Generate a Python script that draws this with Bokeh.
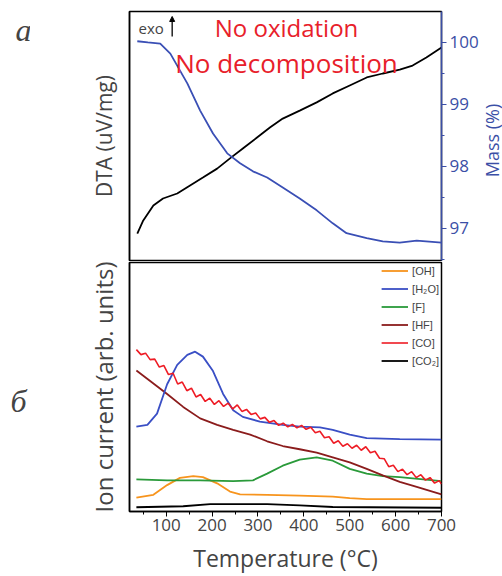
import math
from bokeh.plotting import figure
from bokeh.layouts import column, row
from bokeh.models import (Range1d, LinearAxis, FixedTicker, Label, Arrow,
                          NormalHead, Legend, LegendItem)
from bokeh.embed import file_html
from bokeh.resources import INLINE

# ---------------- data ----------------
# Panel a: DTA (arbitrary units) and mass (%)
dta_temp = [37, 50, 72, 93, 124, 152, 180, 211, 239, 267, 298, 326, 354, 391,
            428, 463, 500, 537, 572, 609, 637, 667, 700]
dta_val = [1.08, 1.61, 2.21, 2.49, 2.69, 3.01, 3.33, 3.69, 4.10, 4.50, 4.94,
           5.34, 5.70, 6.02, 6.35, 6.71, 7.03, 7.35, 7.51, 7.67, 7.83, 8.15, 8.55]

mass_temp = [37, 60, 87, 109, 146, 174, 202, 233, 261, 289, 320, 354, 391,
             428, 463, 493, 537, 572, 609, 646, 700]
mass_val = [100.02, 100.0, 99.98, 99.82, 99.34, 98.90, 98.53, 98.21, 98.05,
            97.92, 97.82, 97.66, 97.48, 97.29, 97.08, 96.92, 96.84, 96.79,
            96.77, 96.80, 96.77]

# Panel b: ion currents (arb. units)
oh_temp = [35, 72, 102, 130, 159, 180, 211, 239, 261, 320, 391, 463, 500, 537, 700]
oh_val = [0.56, 0.67, 1.06, 1.35, 1.42, 1.38, 1.13, 0.80, 0.69, 0.67, 0.64,
          0.60, 0.54, 0.50, 0.50]

h2o_temp = [35, 59, 80, 102, 124, 146, 163, 180, 202, 224, 246, 267, 304,
            354, 391, 435, 463, 500, 537, 609, 700]
h2o_val = [3.41, 3.48, 3.93, 5.11, 5.89, 6.29, 6.42, 6.22, 5.64, 4.72, 4.07,
           3.80, 3.61, 3.48, 3.41, 3.38, 3.28, 3.09, 2.95, 2.91, 2.89]

f_temp = [35, 102, 174, 246, 289, 320, 354, 391, 428, 463, 500, 537, 572, 609, 700]
f_val = [1.29, 1.25, 1.25, 1.22, 1.25, 1.52, 1.84, 2.08, 2.17, 2.04, 1.71,
         1.52, 1.42, 1.38, 1.22]

hf_temp = [35, 65, 102, 137, 174, 211, 246, 283, 320, 354, 391, 428, 463,
           500, 537, 572, 609, 646, 700]
hf_val = [5.66, 5.24, 4.72, 4.20, 3.74, 3.48, 3.28, 3.09, 2.82, 2.63, 2.50,
          2.36, 2.17, 1.97, 1.71, 1.45, 1.19, 0.99, 0.69]

co_temp = [35, 45, 55, 65, 75, 85, 95, 105, 115, 125, 135, 145, 155, 165, 175,
           185, 195, 205, 215, 225, 235, 245, 255, 265, 275, 285, 295, 305,
           315, 325, 335, 345, 355, 365, 375, 385, 395, 405, 415, 425, 435,
           445, 455, 465, 475, 485, 495, 505, 515, 525, 535, 545, 555, 565,
           575, 585, 595, 605, 615, 625, 635, 645, 655, 665, 675, 685, 695, 700]
co_val = [6.50, 6.30, 6.36, 6.10, 6.12, 5.80, 5.86, 5.50, 5.55, 5.12, 5.20,
          4.85, 4.95, 4.60, 4.70, 4.42, 4.55, 4.30, 4.45, 4.22, 4.35, 4.12,
          4.28, 4.02, 4.10, 3.90, 3.96, 3.72, 3.78, 3.58, 3.65, 3.46, 3.55,
          3.40, 3.50, 3.36, 3.46, 3.30, 3.38, 3.16, 3.22, 2.96, 3.00, 2.74,
          2.84, 2.62, 2.72, 2.54, 2.66, 2.46, 2.60, 2.36, 2.42, 2.14, 2.12,
          1.80, 1.86, 1.60, 1.70, 1.48, 1.60, 1.36, 1.48, 1.26, 1.36, 1.14,
          1.24, 1.10]

co2_temp = [35, 137, 196, 320, 391, 463, 700]
co2_val = [0.17, 0.21, 0.30, 0.30, 0.25, 0.18, 0.15]

mass_ticks = [97, 98, 99, 100]
mass_minor = [96.5, 97.5, 98.5, 99.5]
temp_ticks = [100, 200, 300, 400, 500, 600, 700]
temp_minor = [50, 150, 250, 350, 450, 550, 650]

series_labels = ["[OH]", "[H\u2082O]", "[F]", "[HF]", "[CO]", "[CO\u2082]"]
panel_letters = ["a", "\u0431"]
mass_axis_title = "Mass (%)"

FONT = "Open Sans"
BLUE_AX = "#3b4fa6"

# ---------------- left strip with panel letters ----------------
pl = figure(width=30, height=576, x_range=Range1d(0, 30),
            y_range=Range1d(0, 576), output_backend="svg",
            toolbar_location=None, x_axis_location=None,
            y_axis_location=None, min_border=0)
pl.grid.visible = False
pl.outline_line_color = None
pl.add_layout(Label(x=15, y=547, x_units="screen", y_units="screen",
                    text=panel_letters[0], text_font="Liberation Serif",
                    text_font_style="italic", text_font_size="32px",
                    text_baseline="middle"))
pl.add_layout(Label(x=10, y=176, x_units="screen", y_units="screen",
                    text=panel_letters[1], text_font="Liberation Serif",
                    text_font_style="italic", text_font_size="32px",
                    text_baseline="middle"))

# ---------------- right strip with the mass-axis title ----------------
pr = figure(width=21, height=576, x_range=Range1d(0, 21),
            y_range=Range1d(0, 576), output_backend="svg",
            toolbar_location=None, x_axis_location=None,
            y_axis_location=None, min_border=0)
pr.grid.visible = False
pr.outline_line_color = None
pr.add_layout(Label(x=10, y=436, x_units="screen", y_units="screen",
                    text=mass_axis_title, angle=math.pi / 2,
                    text_font=FONT, text_font_size="18px",
                    text_color=BLUE_AX, text_align="center",
                    text_baseline="middle"))

# ---------------- panel a ----------------
p1 = figure(width=451, height=261, x_range=Range1d(20, 700),
            y_range=Range1d(0, 10), output_backend="svg",
            toolbar_location=None, x_axis_location=None,
            min_border_left=99, min_border_right=38, min_border_top=11,
            min_border_bottom=1)
p1.grid.visible = False
p1.outline_line_color = "black"
p1.outline_line_width = 1.5

ya = p1.yaxis[0]
ya.ticker = FixedTicker(ticks=[])
ya.axis_label = "DTA (uV/mg)"
ya.axis_label_text_font = FONT
ya.axis_label_text_font_size = "21px"
ya.axis_label_text_font_style = "normal"
ya.axis_label_standoff = 12
ya.axis_line_color = "black"
ya.axis_line_width = 1.5

p1.extra_y_ranges = {"mass": Range1d(96.48, 100.5)}
ax_r = LinearAxis(y_range_name="mass",
                  ticker=FixedTicker(ticks=mass_ticks, minor_ticks=mass_minor))
ax_r.axis_line_color = BLUE_AX
ax_r.axis_line_width = 1.5
ax_r.major_tick_line_color = BLUE_AX
ax_r.minor_tick_line_color = BLUE_AX
ax_r.major_tick_in = 0
ax_r.major_tick_out = 5
ax_r.minor_tick_in = 0
ax_r.minor_tick_out = 3
ax_r.major_label_text_color = BLUE_AX
ax_r.major_label_text_font = FONT
ax_r.major_label_text_font_size = "17px"
ax_r.major_label_standoff = 3
p1.add_layout(ax_r, "right")

p1.line(dta_temp, dta_val, color="black", line_width=1.8)
p1.line(mass_temp, mass_val, y_range_name="mass", color="#3a4fb5",
        line_width=1.8)

p1.add_layout(Label(x=9, y=233, x_units="screen", y_units="screen",
                    text="exo", text_font=FONT, text_font_size="15px",
                    text_baseline="middle"))
p1.add_layout(Arrow(x_start=113, y_start=9.0, x_end=113, y_end=9.8,
                    line_color="black", line_width=1.3,
                    end=NormalHead(size=5, fill_color="black",
                                   line_color="black")))
p1.add_layout(Label(x=157, y=233, x_units="screen", y_units="screen",
                    text="No oxidation", text_font=FONT,
                    text_font_size="24px", text_color="#e8202a",
                    text_align="center", text_baseline="middle"))
p1.add_layout(Label(x=157, y=198, x_units="screen", y_units="screen",
                    text="No decomposition", text_font=FONT,
                    text_font_size="26px", text_color="#e8202a",
                    text_align="center", text_baseline="middle"))

# ---------------- panel b ----------------
p2 = figure(width=451, height=315, x_range=Range1d(20, 700),
            y_range=Range1d(0, 10), output_backend="svg",
            toolbar_location=None,
            min_border_left=98, min_border_right=39, min_border_top=1,
            min_border_bottom=59)
p2.grid.visible = False
p2.outline_line_color = "black"
p2.outline_line_width = 1.5

xa = p2.xaxis[0]
xa.ticker = FixedTicker(ticks=temp_ticks, minor_ticks=temp_minor)
xa.axis_label = "Temperature (\u00b0C)"
xa.axis_label_text_font = FONT
xa.axis_label_text_font_size = "23px"
xa.axis_label_text_font_style = "normal"
xa.axis_label_standoff = 8
xa.major_label_text_font = FONT
xa.major_label_text_font_size = "17px"
xa.major_label_standoff = 2
xa.major_tick_in = 0
xa.major_tick_out = 5
xa.minor_tick_in = 0
xa.minor_tick_out = 3
xa.axis_line_width = 1.5

yb = p2.yaxis[0]
yb.ticker = FixedTicker(ticks=[])
yb.axis_label = "Ion current (arb. units)"
yb.axis_label_text_font = FONT
yb.axis_label_text_font_size = "24px"
yb.axis_label_text_font_style = "normal"
yb.axis_label_standoff = 10
yb.axis_line_width = 1.5

r_oh = p2.line(oh_temp, oh_val, color="#f7941d", line_width=1.8)
r_f = p2.line(f_temp, f_val, color="#2a9a3a", line_width=1.8)
r_co2 = p2.line(co2_temp, co2_val, color="black", line_width=1.8)
r_hf = p2.line(hf_temp, hf_val, color="#8b1c1c", line_width=1.8)
r_h2o = p2.line(h2o_temp, h2o_val, color="#3a4fc5", line_width=1.8)
r_co = p2.line(co_temp, co_val, color="#ee1c25", line_width=1.6)

legend = Legend(items=[LegendItem(label=series_labels[0], renderers=[r_oh]),
                       LegendItem(label=series_labels[1], renderers=[r_h2o]),
                       LegendItem(label=series_labels[2], renderers=[r_f]),
                       LegendItem(label=series_labels[3], renderers=[r_hf]),
                       LegendItem(label=series_labels[4], renderers=[r_co]),
                       LegendItem(label=series_labels[5], renderers=[r_co2])],
                location="top_right")
legend.border_line_color = None
legend.background_fill_alpha = 0
legend.label_text_font = "Liberation Sans"
legend.label_text_font_size = "11px"
legend.glyph_width = 27
legend.glyph_height = 13
legend.label_height = 13
legend.label_standoff = 4
legend.spacing = 5
legend.padding = 3
legend.margin = 2
p2.add_layout(legend)

layout = row(pl, column(p1, p2, spacing=0), pr, spacing=0)
open("out.html", "w").write(file_html(layout, INLINE))
